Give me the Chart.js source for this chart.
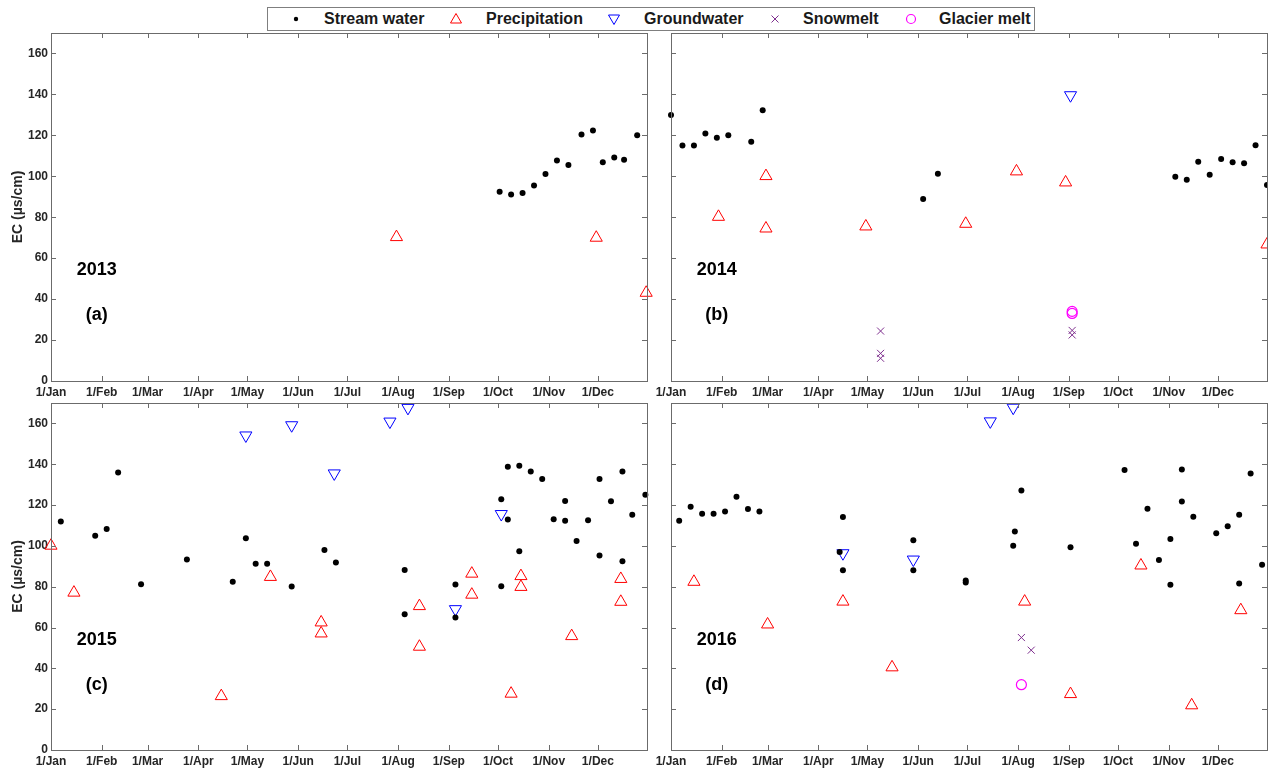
<!DOCTYPE html>
<html>
<head>
<meta charset="utf-8">
<script src="https://cdn.jsdelivr.net/npm/chart.js@4.4.0/dist/chart.umd.min.js"></script>
<style>
  body { margin: 0; background: #fff; }
  #fig { position: relative; width: 1268px; height: 771px; overflow: hidden; font-family: 'Liberation Sans', Arial, sans-serif; }
  #fig canvas { position: absolute; }
  #legend { position: absolute; left: 267px; top: 7px; width: 766px; height: 22px; border: 1px solid #7f7f7f; background: #fff; z-index: 5; }
  .lg-mark { position: absolute; top: 4px; width: 14px; height: 14px; }
  .lg-text { position: absolute; top: 1px; font-weight: bold; font-size: 16px; line-height: 20px; color: #1a1a1a; white-space: nowrap; }
</style>
</head>
<body>
<div id="fig">
  <canvas id="c2013" width="660" height="380" style="left:0;top:20px"></canvas>
  <canvas id="c2014" width="640" height="380" style="left:640px;top:20px"></canvas>
  <canvas id="c2015" width="660" height="381" style="left:0;top:390px"></canvas>
  <canvas id="c2016" width="640" height="381" style="left:640px;top:390px"></canvas>
  <div id="legend">
    <svg class="lg-mark" style="left:21px" viewBox="0 0 14 14"><circle cx="7" cy="7" r="2.2" fill="#000"/></svg>
    <span class="lg-text" style="left:56px">Stream water</span>
    <svg class="lg-mark" style="left:181px" viewBox="0 0 14 14"><polygon points="7,1.5 12.5,11 1.5,11" fill="none" stroke="#ff0000" stroke-width="1"/></svg>
    <span class="lg-text" style="left:218px">Precipitation</span>
    <svg class="lg-mark" style="left:339px" viewBox="0 0 14 14"><polygon points="1.5,3 12.5,3 7,12.5" fill="none" stroke="#0000ff" stroke-width="1"/></svg>
    <span class="lg-text" style="left:376px">Groundwater</span>
    <svg class="lg-mark" style="left:500px" viewBox="0 0 14 14"><path d="M3.5,3.5 L10.5,10.5 M10.5,3.5 L3.5,10.5" stroke="#7e2f8e" stroke-width="1"/></svg>
    <span class="lg-text" style="left:535px">Snowmelt</span>
    <svg class="lg-mark" style="left:636px" viewBox="0 0 14 14"><circle cx="7" cy="7" r="4.5" fill="none" stroke="#ff00ff" stroke-width="1.2"/></svg>
    <span class="lg-text" style="left:671px">Glacier melt</span>
  </div>
</div>
<script>
// axis ticks
const monthLabels = ['1/Jan', '1/Feb', '1/Mar', '1/Apr', '1/May', '1/Jun', '1/Jul', '1/Aug', '1/Sep', '1/Oct', '1/Nov', '1/Dec'];
const monthStartDays = [0, 31, 59, 90, 120, 151, 181, 212, 243, 273, 304, 334];
const ecTicks = [0, 20, 40, 60, 80, 100, 120, 140, 160];

// [day of year, EC in µs/cm]
const stream2013 = [[274, 92.4], [281, 91.1], [288, 91.8], [295, 95.5], [302, 101.1], [309, 107.7], [316, 105.5], [324, 120.4], [331, 122.4], [337, 106.8], [344, 109.2], [350, 108.1], [358, 120.0]];
const precip2013 = [[211, 70.3], [333, 70.0], [363.5, 43.1]];
const ground2013 = [];
const snow2013 = [];
const glacier2013 = [];

const stream2014 = [[0, 129.9], [7, 115.1], [14, 115.1], [21, 120.9], [28, 118.8], [35, 120.0], [49, 116.9], [56, 132.3], [154, 88.9], [163, 101.2], [308, 99.8], [315, 98.3], [322, 107.1], [329, 100.7], [336, 108.4], [343, 106.9], [350, 106.4], [357, 115.2], [364, 95.7]];
const precip2014 = [[29, 80.2], [58, 100.1], [58, 74.5], [119, 75.5], [180, 76.8], [211, 102.4], [241, 97.0], [364, 66.7]];
const ground2014 = [[244, 139.6]];
const snow2014 = [[128, 24.4], [128, 13.5], [128, 11.1], [245, 24.7], [245, 22.5]];
const glacier2014 = [[245, 33.0], [245, 34.0]];

const stream2015 = [[6, 112.0], [27, 105.0], [34, 108.3], [41, 136.0], [55, 81.2], [83, 93.3], [111, 82.4], [119, 103.7], [125, 91.2], [132, 91.2], [147, 80.1], [167, 98.0], [174, 91.8], [216, 88.2], [216, 66.5], [247, 81.1], [247, 64.9], [275, 122.8], [275, 80.2], [279, 112.9], [279, 138.8], [286, 97.4], [286, 139.3], [293, 136.4], [300, 132.8], [307, 113.0], [314, 122.0], [314, 112.3], [321, 102.4], [328, 112.6], [335, 132.8], [335, 95.3], [342, 121.9], [349, 136.4], [349, 92.5], [355, 115.3], [363, 125.1]];
const precip2015 = [[0, 100.1], [14, 77.1], [104, 26.4], [134, 84.8], [165, 62.5], [165, 57.1], [225, 70.5], [225, 50.6], [257, 86.4], [257, 76.1], [281, 27.6], [287, 85.2], [287, 79.9], [318, 55.8], [348, 83.8], [348, 72.6]];
const ground2015 = [[119, 154.1], [147, 159.1], [173, 135.5], [207, 160.9], [218, 167.6], [275, 115.6], [247, 69.0]];
const snow2015 = [];
const glacier2015 = [];

const stream2016 = [[5, 112.3], [12, 119.2], [19, 115.8], [26, 115.8], [33, 116.9], [40, 124.1], [47, 118.1], [54, 116.8], [103, 97.0], [105, 114.2], [105, 88.1], [148, 102.8], [148, 88.1], [180, 83.0], [180, 82.0], [209, 100.1], [210, 107.1], [214, 127.1], [244, 99.3], [277, 137.2], [284, 101.1], [291, 118.2], [298, 93.1], [305, 103.4], [305, 80.9], [312, 137.4], [312, 121.7], [319, 114.3], [333, 106.2], [340, 109.6], [347, 115.2], [347, 81.6], [354, 135.5], [361, 90.8]];
const precip2016 = [[14, 82.4], [59, 61.5], [105, 72.7], [135, 40.5], [216, 72.7], [244, 27.4], [287, 90.4], [318, 21.9], [348, 68.5]];
const ground2016 = [[105, 96.4], [148, 93.3], [195, 161.0], [209, 167.7]];
const snow2016 = [[214, 55.1], [220, 48.9]];
const glacier2016 = [[214, 32.0]];

const FONT = "'Liberation Sans', Arial, sans-serif";
const toXY = arr => arr.map(p => ({ x: p[0], y: p[1] }));

// frame box with inward MATLAB-style ticks
const framePlugin = {
    id: 'frame',
    afterDraw(chart) {
        const { ctx, chartArea: a, scales: { x, y } } = chart;
        ctx.save();
        ctx.strokeStyle = '#6b6b6b';
        ctx.lineWidth = 1;
        ctx.strokeRect(Math.round(a.left) + 0.5, Math.round(a.top) + 0.5, Math.round(a.right - a.left), Math.round(a.bottom - a.top));
        ctx.beginPath();
        monthStartDays.forEach(d => {
            const px = Math.round(x.getPixelForValue(d)) + 0.5;
            ctx.moveTo(px, a.bottom); ctx.lineTo(px, a.bottom - 5);
            ctx.moveTo(px, a.top); ctx.lineTo(px, a.top + 5);
        });
        ecTicks.forEach(v => {
            const py = Math.round(y.getPixelForValue(v)) + 0.5;
            ctx.moveTo(a.left, py); ctx.lineTo(a.left + 5, py);
            ctx.moveTo(a.right, py); ctx.lineTo(a.right - 5, py);
        });
        ctx.stroke();
        ctx.restore();
    }
};

// year and panel letter
const panelTextPlugin = {
    id: 'panelText',
    afterDatasetsDraw(chart, args, opts) {
        const { ctx, scales: { x, y } } = chart;
        ctx.save();
        ctx.font = 'bold 18px ' + FONT;
        ctx.fillStyle = '#000';
        ctx.textAlign = 'center';
        ctx.textBaseline = 'middle';
        ctx.fillText(opts.year, x.getPixelForValue(28), y.getPixelForValue(54));
        ctx.fillText(opts.tag, x.getPixelForValue(28), y.getPixelForValue(32));
        ctx.restore();
    }
};

function makePanel(id, year, tag, showY, xAxisH, series) {
    const [stream, precip, ground, snow, glacier] = series;
    new Chart(document.getElementById(id), {
        type: 'scatter',
        data: {
            datasets: [
                { label: 'Stream water', data: toXY(stream), pointStyle: 'circle', pointRadius: 3, backgroundColor: '#000', borderColor: '#000', borderWidth: 0 },
                { label: 'Precipitation', data: toXY(precip), pointStyle: 'triangle', pointRadius: 7, backgroundColor: 'rgba(0,0,0,0)', borderColor: '#ff0000', borderWidth: 1 },
                { label: 'Groundwater', data: toXY(ground), pointStyle: 'triangle', pointRotation: 180, pointRadius: 7, backgroundColor: 'rgba(0,0,0,0)', borderColor: '#0000ff', borderWidth: 1 },
                { label: 'Snowmelt', data: toXY(snow), pointStyle: 'crossRot', pointRadius: 5, borderColor: '#7e2f8e', borderWidth: 1 },
                { label: 'Glacier melt', data: toXY(glacier), pointStyle: 'circle', pointRadius: 5, backgroundColor: 'rgba(0,0,0,0)', borderColor: '#ff00ff', borderWidth: 1.2 }
            ]
        },
        options: {
            responsive: false,
            animation: false,
            devicePixelRatio: 1,
            clip: false,
            layout: { padding: { left: showY ? 0 : 31, top: 13, right: 13, bottom: 0 } },
            plugins: {
                legend: { display: false },
                tooltip: { enabled: false },
                panelText: { year: year, tag: tag }
            },
            scales: {
                x: {
                    type: 'linear', min: 0, max: 364,
                    afterBuildTicks: s => { s.ticks = monthStartDays.map(v => ({ value: v })); },
                    afterFit: s => { s.height = xAxisH; },
                    grid: { display: false, drawTicks: false },
                    border: { display: false },
                    ticks: {
                        autoSkip: false, maxRotation: 0, padding: 4, color: '#262626',
                        font: { family: FONT, size: 12, weight: 'bold' },
                        callback: (v, i) => monthLabels[i]
                    }
                },
                y: {
                    min: 0, max: 170,
                    afterBuildTicks: s => { s.ticks = ecTicks.map(v => ({ value: v })); },
                    afterFit: s => { s.width = showY ? 51 : 0; },
                    grid: { display: false, drawTicks: false },
                    border: { display: false },
                    ticks: {
                        display: showY, padding: 3, color: '#262626',
                        font: { family: FONT, size: 12, weight: 'bold' }
                    },
                    title: {
                        display: showY, text: 'EC (µs/cm)', color: '#262626',
                        font: { family: FONT, size: 14, weight: 'bold' },
                        padding: { top: 10, bottom: 0 }
                    }
                }
            }
        },
        plugins: [framePlugin, panelTextPlugin]
    });
}

makePanel('c2013', '2013', '(a)', true, 19, [stream2013, precip2013, ground2013, snow2013, glacier2013]);
makePanel('c2014', '2014', '(b)', false, 19, [stream2014, precip2014, ground2014, snow2014, glacier2014]);
makePanel('c2015', '2015', '(c)', true, 21, [stream2015, precip2015, ground2015, snow2015, glacier2015]);
makePanel('c2016', '2016', '(d)', false, 21, [stream2016, precip2016, ground2016, snow2016, glacier2016]);
</script>
</body>
</html>
